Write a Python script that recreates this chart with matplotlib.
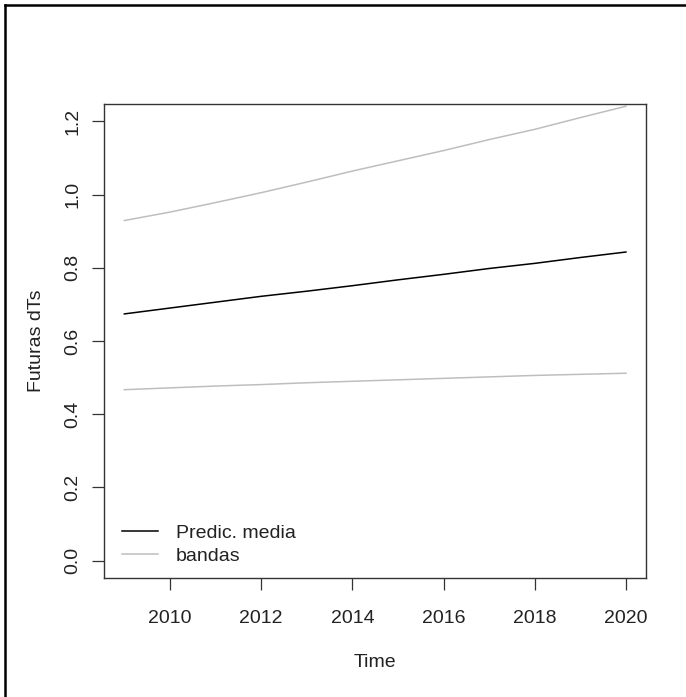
import matplotlib
matplotlib.use("Agg")
import matplotlib.pyplot as plt
from matplotlib.lines import Line2D

plt.rcParams['font.family'] = ['Liberation Sans', 'DejaVu Sans']

years = [2009, 2010, 2011, 2012, 2013, 2014, 2015, 2016, 2017, 2018, 2019, 2020]
pred_media = [0.674, 0.690, 0.706, 0.722, 0.736, 0.751, 0.767, 0.782, 0.798, 0.812, 0.828, 0.843]
banda_sup = [0.929, 0.952, 0.978, 1.005, 1.034, 1.064, 1.092, 1.120, 1.150, 1.178, 1.210, 1.241]
banda_inf = [0.467, 0.472, 0.477, 0.481, 0.486, 0.490, 0.494, 0.498, 0.502, 0.506, 0.509, 0.512]

W, H = 686, 697
fig = plt.figure(figsize=(W / 100, H / 100), dpi=100)

# outer frame (only top/left edges fall inside the canvas)
fig.add_artist(Line2D([5 / W, 5 / W], [1 - 5 / H, 0], color='black', lw=1.8,
                      transform=fig.transFigure))
fig.add_artist(Line2D([5 / W, 1], [1 - 5 / H, 1 - 5 / H], color='black', lw=1.8,
                      transform=fig.transFigure))

ax = fig.add_axes([104.3 / W, 1 - 578.3 / H, (646 - 104.3) / W, (578.3 - 103.7) / H])

ax.plot(years, pred_media, color='black', lw=1.1, label='Predic. media')
ax.plot(years, banda_sup, color='#BEBEBE', lw=1.1, label='bandas')
ax.plot(years, banda_inf, color='#BEBEBE', lw=1.1)

ax.set_xlim(2008.56, 2020.44)
ax.set_ylim(-0.048, 1.248)
ax.set_xticks([2010, 2012, 2014, 2016, 2018, 2020])
ax.set_yticks([0.0, 0.2, 0.4, 0.6, 0.8, 1.0, 1.2])
ax.set_yticklabels(['0.0', '0.2', '0.4', '0.6', '0.8', '1.0', '1.2'],
                   rotation=90, va='center')

for s in ax.spines.values():
    s.set_color('#333333')
    s.set_linewidth(1.0)
ax.tick_params(direction='out', length=8.6, width=0.9, color='#333333',
               labelsize=14, labelcolor='#222222')
ax.tick_params(axis='x', pad=14)
ax.tick_params(axis='y', pad=8)

ax.set_xlabel('Time', fontsize=14, color='#222222', labelpad=20)
ax.set_ylabel('Futuras dTs', fontsize=14, color='#222222', labelpad=14)

ax.legend(loc='lower left', bbox_to_anchor=(0.008, 0.0), frameon=False,
          fontsize=14, handlelength=1.84, handletextpad=0.92, labelspacing=0.25,
          borderaxespad=0.3, labelcolor='#222222')

fig.savefig('out.png', dpi=100)
